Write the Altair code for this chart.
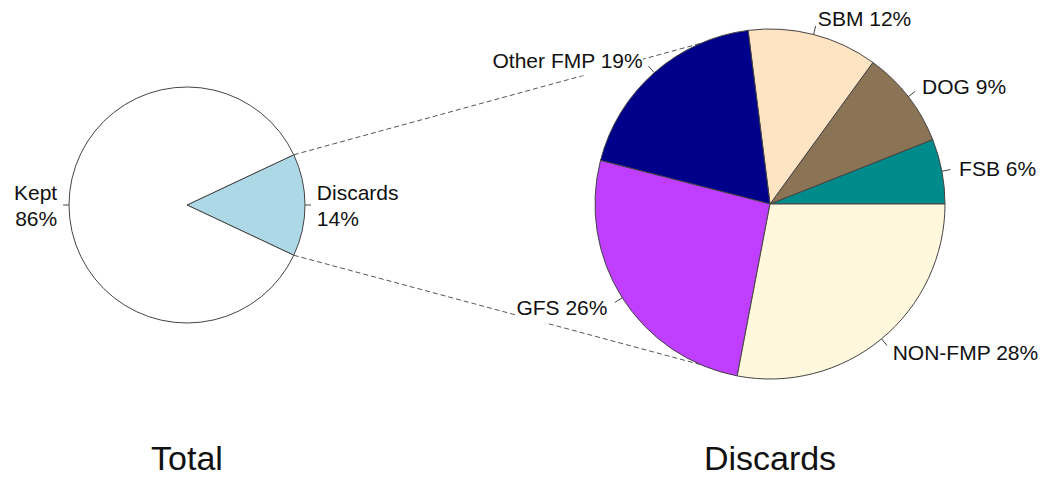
import altair as alt
import pandas as pd

# ---------------- data ----------------
total_labels = ["Discards", "Kept"]
total_values = [14, 86]
total_colors = ["#ADD8E6", "#FFFFFF"]

discard_labels = ["FSB", "DOG", "SBM", "Other FMP", "GFS", "NON-FMP"]
discard_values = [6, 9, 12, 19, 26, 28]
discard_colors = ["#008B8B", "#8B7355", "#FFE4C4", "#00008B", "#BF3EFF", "#FFF8DC"]

pie_titles = ["Total", "Discards"]

# ---------------- layout (page pixel coordinates) ----------------
W, H = 1032, 469
LEFT = dict(cx=187, cy=205, r=118,
            start=-360.0 * total_values[0] / sum(total_values) / 2, sep="\n")
RIGHT = dict(cx=770, cy=204, r=175, start=0.0, sep=" ")
CONNECT_TO = 113.4      # angle (deg) on the right pie where the connectors end
TITLE_Y = 470
FONT = "Liberation Sans"
LINE = "#444444"
LH = 26                 # line height of two-line labels

rows = []
for i, (l, v, c) in enumerate(zip(total_labels, total_values, total_colors)):
    rows.append(dict(pie="Total", order=i, label=l, value=v, color=c, **LEFT))
for i, (l, v, c) in enumerate(zip(discard_labels, discard_values, discard_colors)):
    rows.append(dict(pie="Discards", order=i, label=l, value=v, color=c, **RIGHT))
df = pd.DataFrame(rows)

titles_df = pd.DataFrame({"title": pie_titles,
                          "cx": [LEFT["cx"], RIGHT["cx"]],
                          "ty": [TITLE_Y, TITLE_Y]})

xs = alt.Scale(domain=[8, 8 + W], nice=False, zero=False)
ys = alt.Scale(domain=[8, 8 + H], nice=False, zero=False, reverse=True)

base = (
    alt.Chart(df)
    .transform_window(cum="sum(value)", groupby=["pie"],
                      sort=[alt.SortField("order", order="ascending")], frame=[None, 0])
    .transform_joinaggregate(tot="sum(value)", groupby=["pie"])
    .transform_calculate(a0="datum.start + 360*(datum.cum - datum.value)/datum.tot")
    .transform_calculate(a1="datum.start + 360*datum.cum/datum.tot")
    .transform_calculate(mid="(datum.a0 + datum.a1)/2")
    .transform_calculate(t0="(90 - datum.a1)*PI/180")
    .transform_calculate(t1="(90 - datum.a0)*PI/180")
    .transform_calculate(pct="round(100*datum.value/datum.tot)")
    .transform_calculate(c="cos(datum.mid*PI/180)")
    .transform_calculate(s="sin(datum.mid*PI/180)")
    .transform_calculate(ex="datum.cx + datum.r*datum.c")
    .transform_calculate(ey="datum.cy - datum.r*datum.s")
    .transform_calculate(tx="datum.cx + 1.05*datum.r*datum.c")
    .transform_calculate(ty="datum.cy - 1.05*datum.r*datum.s")
    .transform_calculate(lx="datum.cx + 1.1*datum.r*datum.c")
    .transform_calculate(ly="datum.cy - 1.1*datum.r*datum.s")
    .transform_calculate(lyt=f"datum.ly - (datum.sep == '\\n' ? {LH / 2} : 0)")
    .transform_calculate(txt="datum.label + datum.sep + datum.pct + '%'")
    .transform_calculate(bw="length(datum.label + ' ' + datum.pct + '%') * 12")
    .transform_calculate(bx0="datum.c >= 0 ? datum.lx - 4 : datum.lx - datum.bw - 6")
    .transform_calculate(bx1="datum.c >= 0 ? datum.lx + datum.bw + 6 : datum.lx")
    .transform_calculate(by0="datum.ly - 12")
    .transform_calculate(by1="datum.ly + 16")
)

# dashed connectors from the Discards slice edges to the right pie
conn = (
    base.transform_filter("datum.label == 'Discards'")
    .transform_fold(["a0", "a1"], as_=["edge", "ang"])
    .transform_calculate(x1="datum.cx + datum.r*cos(datum.ang*PI/180)")
    .transform_calculate(y1="datum.cy - datum.r*sin(datum.ang*PI/180)")
    .transform_calculate(
        x2=f"{RIGHT['cx']} + {RIGHT['r']}*cos((datum.ang > 0 ? {CONNECT_TO} : -{CONNECT_TO})*PI/180)")
    .transform_calculate(
        y2=f"{RIGHT['cy']} - {RIGHT['r']}*sin((datum.ang > 0 ? {CONNECT_TO} : -{CONNECT_TO})*PI/180)")
    .mark_rule(color="#555555", strokeWidth=1, strokeDash=[5, 3])
    .encode(x=alt.X("x1:Q", scale=xs, axis=None), y=alt.Y("y1:Q", scale=ys, axis=None),
            x2="x2:Q", y2="y2:Q")
)

boxes = base.mark_rect(fill="white", stroke=None).encode(
    x=alt.X("bx0:Q", scale=xs, axis=None), x2="bx1:Q",
    y=alt.Y("by0:Q", scale=ys, axis=None), y2="by1:Q",
)

arcs = base.mark_arc(stroke=LINE, strokeWidth=1).encode(
    x=alt.X("cx:Q", scale=xs, axis=None),
    y=alt.Y("cy:Q", scale=ys, axis=None),
    theta=alt.Theta("t0:Q", scale=None, stack=None),
    theta2="t1:Q",
    radius=alt.Radius("r:Q", scale=None),
    color=alt.Color("color:N", scale=None),
)

ticks = base.mark_rule(color=LINE, strokeWidth=1).encode(
    x=alt.X("ex:Q", scale=xs, axis=None), y=alt.Y("ey:Q", scale=ys, axis=None),
    x2="tx:Q", y2="ty:Q",
)

label_kw = dict(baseline="middle", fontSize=21, font=FONT, color="#111111",
                lineBreak="\n", lineHeight=LH, dy=2)
labels_r = base.transform_filter("datum.c >= 0").mark_text(align="left", **label_kw).encode(
    x=alt.X("lx:Q", scale=xs, axis=None), y=alt.Y("lyt:Q", scale=ys, axis=None), text="txt:N")
labels_l = base.transform_filter("datum.c < 0").mark_text(align="right", **label_kw).encode(
    x=alt.X("lx:Q", scale=xs, axis=None), y=alt.Y("lyt:Q", scale=ys, axis=None), text="txt:N")

titles = alt.Chart(titles_df).mark_text(
    align="center", baseline="alphabetic", fontSize=34, font=FONT, color="#111111"
).encode(x=alt.X("cx:Q", scale=xs, axis=None), y=alt.Y("ty:Q", scale=ys, axis=None),
         text="title:N")

chart = (
    alt.layer(conn, boxes, arcs, ticks, labels_r, labels_l, titles)
    .properties(width=W, height=H, padding=0, autosize=alt.AutoSizeParams(type="none"))
    .configure_view(stroke=None)
)

chart.save("out.html", embed_options={"renderer": "svg", "actions": False})
